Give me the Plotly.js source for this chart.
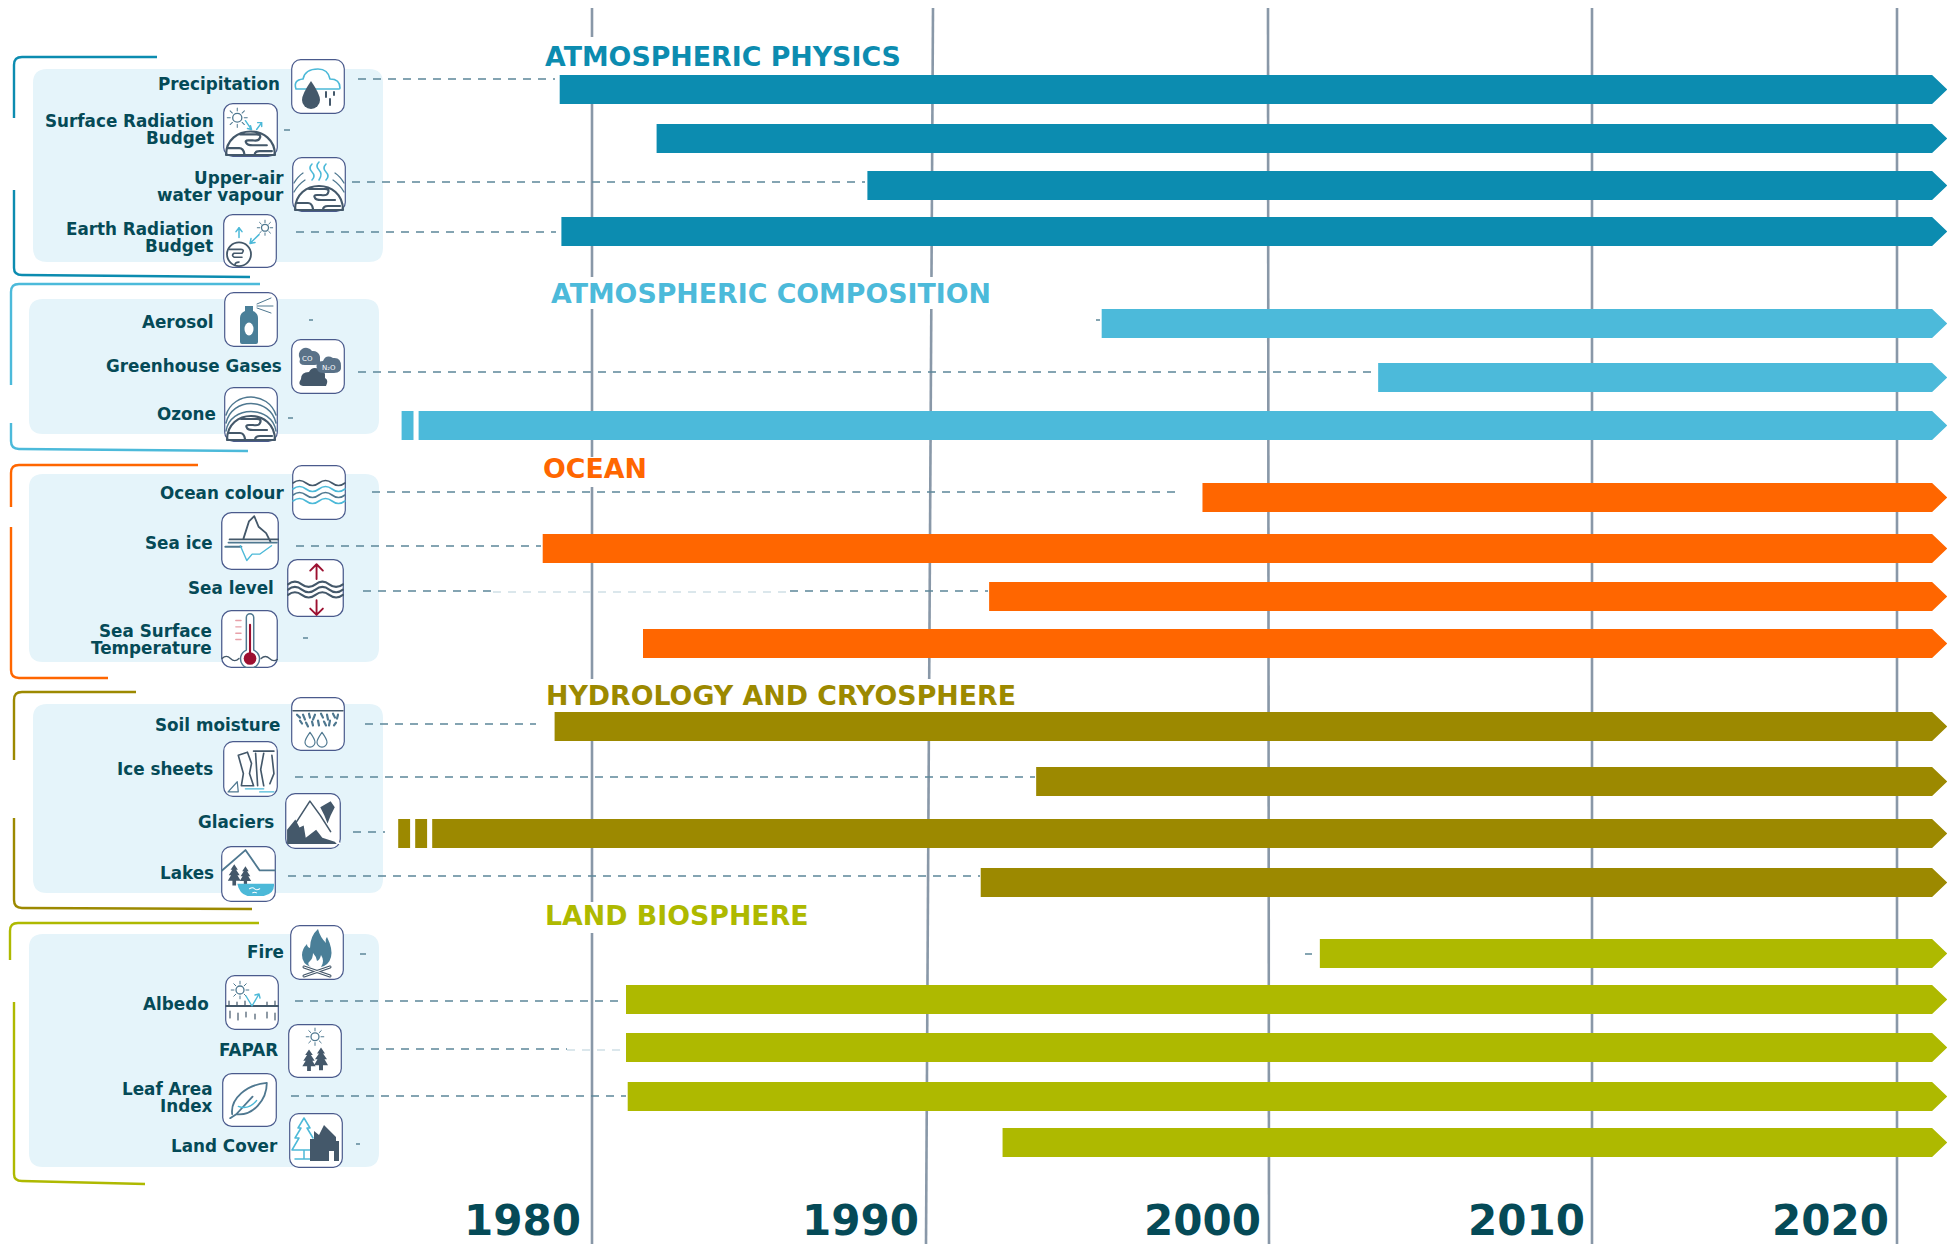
<!DOCTYPE html>
<html>
<head>
<meta charset="utf-8">
<title>Essential climate variables timeline</title>
<script src="https://cdn.plot.ly/plotly-3.0.1.min.js"></script>
<style>
    html, body { margin: 0; padding: 0; background: #fff; }
</style>
</head>
<body>
<div id="chart" style="width:1947px;height:1244px"></div>
<script>
// Data
const groupNames = ['ATMOSPHERIC PHYSICS', 'ATMOSPHERIC COMPOSITION', 'OCEAN', 'HYDROLOGY AND CRYOSPHERE', 'LAND BIOSPHERE'];
const groupSizes = [4, 3, 4, 4, 5];
const variables = [
    'Precipitation', 'Surface Radiation<br>Budget', 'Upper-air<br>water vapour', 'Earth Radiation<br>Budget',
    'Aerosol', 'Greenhouse Gases', 'Ozone',
    'Ocean colour', 'Sea ice', 'Sea level', 'Sea Surface<br>Temperature',
    'Soil moisture', 'Ice sheets', 'Glaciers', 'Lakes',
    'Fire', 'Albedo', 'FAPAR', 'Leaf Area<br>Index', 'Land Cover'
];
const startYears = [
    1979.05, 1981.9, 1988.1, 1979.1,
    1995.05, 2003.4, 1974.9,
    1998.05, 1978.55, 1991.7, 1981.5,
    1978.9, 1993.1, 1975.3, 1991.45,
    2001.6, 1981.0, 1981.0, 1981.05, 1992.1
];
const ozoneEarly = [[1974.4, 1974.75]];
const glaciersEarly = [[1974.3, 1974.65], [1974.8, 1975.15]];
const decades = [1980, 1990, 2000, 2010, 2020];
const arrowShoulderYear = 2021.15;
const arrowTipYear = 2021.65;

// The decades are not evenly spaced in the drawing, so years go through this calibration
const decadeX = [592, 932, 1268, 1592, 1897];

// Layout of the drawing, in page pixels
const groupColors = ['#0c8cb0', '#4cbada', '#ff6600', '#9c8900', '#aeb900'];
const barTops = [75, 124, 171, 217, 309, 363, 411, 483, 534, 582, 629, 712, 767, 819, 868, 939, 985, 1033, 1082, 1128];
const barHeight = 29;
const titleLefts = [544, 550, 542, 545, 544];
const titleMids = [56, 293, 468, 695, 915];
const labelRights = [281, 215, 285, 214, 214, 283, 217, 285, 214, 275, 213, 281, 214, 275, 215, 285, 210, 279, 214, 279];
const labelMids = [84, 129, 186, 237, 322, 366, 414, 493, 543, 588, 639, 725, 769, 822, 873, 952, 1004, 1050, 1097, 1146];
const yearLabelRights = [582, 920, 1262, 1586, 1890];
const yearLabelMids = [1220, 1220, 1220, 1220, 1220];
const gridTopX = [592, 933, 1268, 1592, 1897];
const gridBottomX = [592, 926, 1269, 1592, 1897];
const gridBreaks = [
    [[37, 75], [277, 309], [457, 487], [679, 712], [902, 933]],
    [[277, 309], [679, 712]],
    [], [], []
];
const panels = [[33, 69, 383, 262], [29, 299, 379, 434], [29, 474, 379, 662], [33, 704, 383, 893], [29, 934, 379, 1167]];
const brackets = [
    'M157 57 H22 Q14 57 14 65 V118 M14 190 V268 Q14 275 22 275 L250 277',
    'M260 284 H19 Q11 284 11 292 V385 M11 423 V441 Q11 449 19 449 L248 451',
    'M198 465 H19 Q11 465 11 473 V507 M11 527 V670 Q11 678 19 678 L108 678',
    'M136 692 H22 Q14 692 14 700 V760 M14 818 V900 Q14 908 22 908 L252 909',
    'M259 923 H18 Q10 923 10 931 V960 M14 1002 V1174 Q14 1181 22 1181 L145 1184'
];
const leaders = [
    [358, 555, 79], [284, 290, 130], [352, 865, 182], [296, 556, 232],
    [309, 313, 320], [1096, 1100, 320], [358, 1375, 372], [288, 293, 418],
    [372, 1175, 492], [296, 541, 546], [363, 493, 591], [790, 988, 591], [303, 308, 638],
    [365, 536, 724], [295, 1035, 777], [353, 385, 832], [288, 980, 876],
    [360, 366, 954], [1305, 1312, 954], [295, 622, 1001], [356, 567, 1049], [291, 626, 1096], [356, 360, 1144]
];
const paleLeaders = [[493, 790, 592], [567, 625, 1050]];
const iconBoxes = [
    [291, 59, 345, 114], [223, 103, 278, 157], [292, 157, 346, 212], [223, 214, 277, 268],
    [224, 292, 278, 347], [291, 339, 345, 394], [224, 387, 278, 442],
    [292, 465, 346, 520], [221, 512, 279, 570], [287, 559, 344, 617], [221, 610, 278, 668],
    [291, 697, 345, 751], [223, 741, 278, 797], [285, 793, 341, 849], [221, 846, 276, 902],
    [290, 925, 344, 980], [225, 975, 279, 1030], [288, 1024, 342, 1078], [222, 1073, 277, 1127], [289, 1113, 343, 1168]
];

const inkColor = '#4f7890';
const darkColor = '#44586a';
const cyanColor = '#4cb9d8';
const redColor = '#9c1030';
const textColor = '#054a57';
const fontName = '"DejaVu Sans", sans-serif';

function yearToX(year) {
    let i = 0;
    while (i < decades.length - 2 && year > decades[i + 1]) i++;
    const slope = (decadeX[i + 1] - decadeX[i]) / (decades[i + 1] - decades[i]);
    return decadeX[i] + (year - decades[i]) * slope;
}

// Small SVG pieces for the icons
const line = (d, color = inkColor, w = 1.6) => `<path d="${d}" fill="none" stroke="${color}" stroke-width="${w}" stroke-linecap="round" stroke-linejoin="round"/>`;
const blob = (d, color = inkColor) => `<path d="${d}" fill="${color}"/>`;
const sun = (x, y, r, color = inkColor) => {
    let rays = '';
    for (let a = 0; a < 8; a++) {
        const c = Math.cos(a * Math.PI / 4), s = Math.sin(a * Math.PI / 4);
        rays += `M${x + c * r * 1.5} ${y + s * r * 1.5} L${x + c * r * 2.2} ${y + s * r * 2.2} `;
    }
    return `<circle cx="${x}" cy="${y}" r="${r}" fill="none" stroke="${color}" stroke-width="1.3"/>` + line(rays, color, 1);
};
const waves = (y, color = inkColor, w = 1.6) => line(`M1 ${y} q6.5 -5 13 0 t13 0 t13 0 t13 0`, color, w);
const tree = (x, y, s, color = inkColor) => blob(`M${x} ${y} l${4 * s} ${6 * s} h${-2 * s} l${4 * s} ${6 * s} h${-2.5 * s} l${3.5 * s} ${6 * s} h${-5 * s} v${5 * s} h${-4 * s} v${-5 * s} h${-5 * s} l${3.5 * s} ${-6 * s} h${-2.5 * s} l${4 * s} ${-6 * s} h${-2 * s} z`, color);
const dome = line('M3 53 C3 21 51 21 51 53 Z M17 32 h16 q5 0 3 4 q-1 3 -7 2 h-4 q-4 0 -2 3 q1 2 6 2 h14 M5 46 h11 q4 0 5 6 M31 53 q0 -4 5 -4 h12', darkColor, 2.2);

const iconArt = [
    line('M5 30 q-3 -9 7 -10 q2 -10 15 -10 q10 0 12 10 q10 0 10 9 q0 1 -1 1 Z', cyanColor, 1.6) + blob('M20 22 q9 13 9 19 a9 9 0 0 1 -18 0 q0 -6 9 -19 Z', darkColor) + line('M35 33 v5 M43 33 v3 M39 40 v6', darkColor, 2),
    sun(14, 15, 4.5) + line('M22 18 l6 9 M28 27 l-1 -4 M28 27 l-4 -1 M33 27 l5 -7 M38 20 l-4 0 M38 20 l0 4', cyanColor, 1.4) + dome,
    line('M20 7 q-4 4 0 8 t0 8 M27 5 q-4 4 0 8 t0 10 M34 7 q-4 4 0 8 t0 8', cyanColor, 1.6) + line('M2 35 C6 28 10 25 13 23 M52 35 C48 28 44 25 41 23 M2 26 C5 21 8 18 11 16 M52 26 C49 21 46 18 43 16', inkColor, 1.3) + dome,
    sun(42, 14, 3.5) + line('M16 24 v-10 M16 14 l-3 4 M16 14 l3 4 M36 21 l-9 9 M27 30 l5 -1 M27 30 l1 -5', cyanColor, 1.5) + `<circle cx="16" cy="41" r="12" fill="none" stroke="${darkColor}" stroke-width="1.8"/>` + line('M6 36 h12 q4 0 1 4 h-8 q-3 2 0 4 h8 M12 52 q0 -3 4 -3', darkColor, 1.6),
    blob('M16 26 q0 -5 5 -7 v-5 h8 v5 q5 2 5 7 V50 q0 2 -2 2 H18 q-2 0 -2 -2 Z', '#4a7f98') + `<ellipse cx="25" cy="37" rx="4.5" ry="6.5" fill="#fff"/>` + line('M33 12 L47 6 M33 14 L49 14 M33 16 L47 21', inkColor, 1),
    blob('M10 40 q0 -7 8 -7 q3 -6 10 -3 q7 0 6 9 q4 2 1 8 H12 q-6 -1 -2 -7 Z', darkColor) + blob('M9 20 a7 7 0 0 1 12 -8 a7 7 0 0 1 8 8 q1 6 -6 6 h-9 q-7 0 -5 -6 Z', '#5a7288') + blob('M26 30 q-2 -8 6 -8 q3 -7 10 -3 q8 -1 8 8 q1 7 -7 7 H32 q-5 0 -6 -4 Z', '#5a7288') + `<text x="11" y="22" font-size="7" fill="#fff" font-family="DejaVu Sans">CO</text><text x="31" y="31" font-size="7" fill="#fff" font-family="DejaVu Sans">N₂O</text>`,
    line('M2 44 C6 18 48 18 52 44 M2 36 C8 10 46 10 52 36 M2 28 C10 4 44 4 52 28', inkColor, 1.5) + dome,
    waves(18, darkColor, 1.6) + waves(24, cyanColor, 1.6) + waves(30, inkColor, 1.6) + waves(36, cyanColor, 1.6),
    line('M21 25 L26 9 L31 4 L35 14 L42 20 L46 28 M8 26 H56', darkColor, 1.7) + line('M7 29 H52 M4 33 H19', inkColor, 1.8) + line('M18 32 L24 46 L29 40 L36 40 L47 32', cyanColor, 1.3),
    waves(24, darkColor, 2) + waves(29, darkColor, 2) + waves(34, darkColor, 2) + line('M28 19 V5 M22 11 L28 5 L34 11 M28 39 V53 M22 47 L28 53 L34 47', redColor, 1.8),
    line('M24 38 V7 a3.5 3.5 0 0 1 7 0 V38 a9 9 0 1 1 -7 0 Z', inkColor, 1.4) + `<circle cx="27.5" cy="46" r="6" fill="${redColor}"/>` + line('M27.5 44 V14', redColor, 2) + line('M14 10 h5 M14 16 h5 M14 22 h5 M14 28 h5', '#e8a0a8', 1.3) + line('M1 46 q4 -4 8 0 t8 0 M38 46 q4 -4 8 0 t9 0', darkColor, 1.3),
    line('M2 14 H52', darkColor, 1.4) + line('M6 18 l3 3 M12 18 l2 5 M18 17 l1 4 M24 18 l-2 5 M30 17 l2 4 M36 18 l1 5 M42 17 l2 4 M47 18 l-1 4 M9 24 l2 3 M15 26 l2 4 M21 25 l1 4 M27 24 l1 5 M33 25 l2 4 M39 24 l-1 5 M45 26 l-2 3', inkColor, 2.2) + line('M19 36 q5 7 5 10 a5 5 0 0 1 -10 0 q0 -3 5 -10 Z M31 36 q5 7 5 10 a5 5 0 0 1 -10 0 q0 -3 5 -10 Z', inkColor, 1.2),
    line('M15 14 L24 11 L28 22 L26 32 L30 44 L18 44 L20 32 Z M30 10 H50 M32 12 L34 44 M40 12 L37 28 L40 44 M48 14 L50 32 L46 42', darkColor, 1.6) + line('M5 50 L14 40 L15 50 Z', inkColor, 1.2) + line('M22 47 H40 M36 50 H50', cyanColor, 1.3),
    blob('M2 50 L6 30 L12 20 L16 26 L24 8 L30 16 L34 12 L38 26 L42 36 L50 46 L54 50 Z', '#fff') + line('M10 30 L24 8 L34 22 L44 38', darkColor, 1.5) + blob('M2 50 V36 L10 26 L14 34 L18 32 L20 44 L30 36 L36 44 L48 48 L50 50 Z', darkColor) + blob('M34 14 L44 8 L48 14 L44 22 L41 30 L38 22 Z', darkColor),
    line('M1 24 L24 4 L38 24 H54', inkColor, 1.8) + tree(13, 18, 0.9, darkColor) + tree(24, 20, 0.8, darkColor) + blob('M16 37 H52 q1 10 -10 12 H26 q-8 -2 -10 -12 Z', cyanColor) + line('M28 42 q3 -2 5 0 t5 0 M31 46 q2 -1 4 0', '#fff', 1),
    blob('M28 4 q2 8 8 14 q-1 -4 1 -6 q6 12 4 20 q-2 8 -10 10 q4 -6 0 -12 q-1 5 -4 6 q-1 -5 -4 -8 q0 5 -3 8 q-4 3 1 6 q-9 -3 -9 -12 q0 -6 5 -11 q0 3 3 4 q0 -12 8 -19 Z', '#4a7f98') + line('M14 42 L40 51 M40 42 L14 51', darkColor, 3) + line('M14 42 L40 51 M40 42 L14 51', '#fff', 1),
    sun(15, 15, 4) + line('M1 31 H53', darkColor, 1.8) + line('M21 21 L27 31 L34 19 M34 19 l-4 1 M34 19 l1 4', cyanColor, 1.4) + line('M4 26 v4 M12 27 v3 M20 26 v4 M42 27 v3 M50 26 v4 M5 36 v7 M13 38 v7 M21 37 v5 M30 39 v5 M42 37 v6 M50 38 v7', darkColor, 1.2),
    sun(27, 13, 4) + tree(21, 26, 0.95, darkColor) + tree(33, 24, 1, darkColor),
    line('M10 42 C8 26 24 12 44 10 C44 28 30 44 14 42 L8 46 M14 42 L30 24', inkColor, 1.8) + line('M16 34 q10 4 18 -6', cyanColor, 1.3),
    line('M15 5 L9 15 H12 L6 25 H10 L3 37 H30 M15 5 L21 15 H18 L24 25 M15 37 V46 M6 46 H26', cyanColor, 1.5) + blob('M21 46 V26 L25 26 V18 L30 22 L35 12 L47 24 V28 H50 V48 H45 V38 H40 V48 H21 Z', darkColor)
];

function iconImage(art, box) {
    const w = box[2] - box[0], h = box[3] - box[1];
    const svg = `<svg xmlns="http://www.w3.org/2000/svg" width="${w * 3}" height="${h * 3}" viewBox="0 0 54 55" preserveAspectRatio="none">` +
        `<rect x="0.7" y="0.7" width="52.6" height="53.6" rx="9" fill="#fff" stroke="#4a5a8c" stroke-width="1.2"/>${art}</svg>`;
    return {
        source: 'data:image/svg+xml;charset=utf-8,' + encodeURIComponent(svg),
        xref: 'x', yref: 'y', x: box[0], y: box[1], sizex: w, sizey: h,
        xanchor: 'left', yanchor: 'top', sizing: 'stretch', layer: 'above'
    };
}

// Bars are filled polygons so that they can end in an arrow head
function barPolygons(start, count, color) {
    const xs = [], ys = [];
    for (let i = start; i < start + count; i++) {
        const top = barTops[i], bottom = top + barHeight, left = yearToX(startYears[i]);
        xs.push(left, yearToX(arrowShoulderYear), yearToX(arrowTipYear), yearToX(arrowShoulderYear), left, left, null);
        ys.push(top, top, top + barHeight / 2, bottom, bottom, top, null);
        const early = variables[i] === 'Ozone' ? ozoneEarly : variables[i] === 'Glaciers' ? glaciersEarly : [];
        early.forEach(block => {
            const x0 = yearToX(block[0]), x1 = yearToX(block[1]);
            xs.push(x0, x1, x1, x0, x0, null);
            ys.push(top, top, bottom, bottom, top, null);
        });
    }
    return {
        x: xs, y: ys, type: 'scatter', mode: 'lines', fill: 'toself',
        fillcolor: color, line: { width: 0, color: color }, hoverinfo: 'skip', showlegend: false
    };
}

function gridTrace() {
    const xs = [], ys = [];
    const topY = 8, bottomY = 1244;
    decades.forEach((decade, i) => {
        const xAt = y => gridTopX[i] + (gridBottomX[i] - gridTopX[i]) * (y - topY) / (bottomY - topY);
        let y = topY;
        gridBreaks[i].forEach(gap => {
            xs.push(xAt(y), xAt(gap[0]), null);
            ys.push(y, gap[0], null);
            y = gap[1];
        });
        xs.push(xAt(y), xAt(bottomY), null);
        ys.push(y, bottomY, null);
    });
    return {
        x: xs, y: ys, type: 'scatter', mode: 'lines',
        line: { color: '#8998a8', width: 2.6 }, hoverinfo: 'skip', showlegend: false
    };
}

function leaderTrace(segments, color) {
    const xs = [], ys = [];
    segments.forEach(s => {
        xs.push(s[0], s[1], null);
        ys.push(s[2], s[2], null);
    });
    return {
        x: xs, y: ys, type: 'scatter', mode: 'lines',
        line: { color: color, width: 1.5, dash: '8px,7px' }, hoverinfo: 'skip', showlegend: false
    };
}

const traces = [gridTrace(), leaderTrace(leaders, '#5c8799'), leaderTrace(paleLeaders, '#cfdfe6')];
let offset = 0;
groupSizes.forEach((size, g) => {
    traces.push(barPolygons(offset, size, groupColors[g]));
    offset += size;
});

const shapes = [];
panels.forEach(p => {
    const r = 14;
    shapes.push({
        type: 'path', layer: 'below', xref: 'x', yref: 'y', line: { width: 0 }, fillcolor: '#e5f4fa',
        path: `M${p[0] + r} ${p[1]} H${p[2] - r} Q${p[2]} ${p[1]} ${p[2]} ${p[1] + r} V${p[3] - r} Q${p[2]} ${p[3]} ${p[2] - r} ${p[3]} H${p[0] + r} Q${p[0]} ${p[3]} ${p[0]} ${p[3] - r} V${p[1] + r} Q${p[0]} ${p[1]} ${p[0] + r} ${p[1]} Z`
    });
});
brackets.forEach((path, g) => {
    shapes.push({ type: 'path', layer: 'below', xref: 'x', yref: 'y', path: path, line: { color: groupColors[g], width: 2.4 } });
});

const annotations = [];
function addText(text, x, y, xanchor, size, color) {
    annotations.push({
        text: text, x: x, y: y, xref: 'x', yref: 'y', xanchor: xanchor, yanchor: 'middle',
        showarrow: false, borderpad: 0, font: { family: fontName, size: size, color: color, weight: 700 }
    });
}
groupNames.forEach((name, g) => addText(name, titleLefts[g], titleMids[g], 'left', 26.8, groupColors[g]));
variables.forEach((name, i) => {
    const lines = name.split('<br>');
    lines.forEach((part, n) => {
        const y = labelMids[i] + (n - (lines.length - 1) / 2) * 17;
        addText(part, labelRights[i], y, 'right', 16.8, textColor);
    });
});
decades.forEach((decade, i) => addText(String(decade), yearLabelRights[i], yearLabelMids[i], 'right', 42, textColor));

const layout = {
    width: 1947,
    height: 1244,
    margin: { t: 0, r: 0, b: 0, l: 0 },
    paper_bgcolor: '#ffffff',
    plot_bgcolor: '#ffffff',
    xaxis: { range: [0, 1947], visible: false, fixedrange: true },
    yaxis: { range: [1244, 0], visible: false, fixedrange: true },
    shapes: shapes,
    annotations: annotations,
    images: iconBoxes.map((box, i) => iconImage(iconArt[i], box)),
    showlegend: false
};

Plotly.newPlot('chart', traces, layout, { displayModeBar: false, staticPlot: true });
</script>
</body>
</html>
